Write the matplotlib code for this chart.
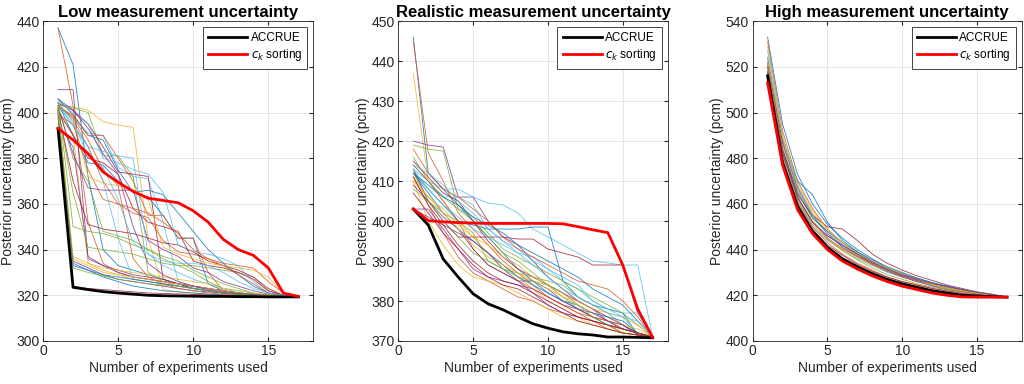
import matplotlib
matplotlib.use("Agg")
from matplotlib import pyplot as plt

plt.rcParams["font.family"] = ["Liberation Sans", "DejaVu Sans"]

N_EXP = list(range(1, 18))
MATLAB_COLORS = ["#0072BD", "#D95319", "#EDB120", "#7E2F8E", "#77AC30", "#4DBEEE", "#A2142F"]

# ---- low measurement uncertainty ----
low_accrue = [393, 323.5, 322.5, 321.6, 321, 320.5, 320, 319.8, 319.7, 319.6, 319.5, 319.5, 319.4, 319.4, 319.3, 319.3, 319.3]
low_ck = [393, 388, 382, 374, 369.5, 365.5, 362.5, 361.5, 360.5, 357, 352, 344.5, 340, 337.5, 332, 321, 319.5]
low_runs = [
    [437, 421, 372, 340, 333, 331, 329, 327, 325, 323, 322, 321, 320.5, 320, 319.8, 319.6, 319.5],
    [437, 403, 352, 334, 330, 328, 327, 326, 325, 324, 323, 322, 321, 320.5, 320, 319.7, 319.5],
    [403, 402.5, 401, 396, 394.5, 393.5, 345, 322.5, 321.5, 321, 320.5, 320, 319.9, 319.8, 319.7, 319.6, 319.5],
    [410, 410, 336, 333, 331, 329, 328, 327, 325, 324, 323, 322, 321, 320.5, 320, 319.7, 319.5],
    [404, 402, 400, 381, 381, 372, 330, 326, 324, 323, 322, 321, 320.5, 320, 319.8, 319.6, 319.5],
    [402, 398, 391, 390, 376, 372, 371, 352, 326, 324, 322, 321, 320.5, 320, 319.8, 319.6, 319.5],
    [404, 401, 395, 385, 374, 373, 372, 327, 325, 323, 322, 321, 320.5, 320, 319.8, 319.6, 319.5],
    [406, 399, 390, 388, 375, 365, 363, 355, 345, 345, 325, 322, 321, 320.5, 320, 319.7, 319.5],
    [403, 397, 385, 370, 360, 356, 354, 344, 339, 338, 336, 334, 333, 332, 326, 321, 319.5],
    [399, 391, 334, 331, 329, 327, 326, 325, 324, 323, 322, 321, 320.5, 320, 319.8, 319.6, 319.5],
    [395, 385, 337, 333, 330, 328, 327, 326, 325, 324, 323, 322, 321, 320.5, 320, 319.7, 319.5],
    [402, 365, 341, 340, 339, 338, 336, 334, 333, 333, 332, 331, 330, 328, 322, 320, 319.5],
    [403, 394, 385, 370, 345, 327, 326, 325, 324, 323, 322, 321, 320.5, 320, 319.8, 319.6, 319.5],
    [401, 370, 351, 349, 348, 347, 345, 343, 342, 339, 335, 333, 331, 328, 323, 320, 319.5],
    [404, 390, 378, 377, 370, 365, 366, 364, 356, 348, 340, 334, 329, 324, 321, 320, 319.5],
    [402, 399, 390, 390, 380, 370, 355, 355, 345, 345, 330, 322, 321, 320.5, 320, 319.7, 319.5],
    [400, 336, 333, 330, 329, 328, 327, 326, 325, 324, 323, 322, 321, 320.5, 320, 319.7, 319.5],
    [398, 335, 332, 329, 327, 326, 325, 324, 323, 322, 321.5, 321, 320.5, 320, 319.8, 319.6, 319.5],
    [403, 380, 370, 348, 346, 344, 340, 336, 333, 330, 326, 323, 321, 320.5, 320, 319.7, 319.5],
    [405, 400, 395, 380, 378, 375, 373, 365, 342, 339, 338, 336, 333, 326, 321, 320, 319.5],
    [401, 390, 380, 378, 373, 358, 352, 350, 348, 335, 333, 332, 330, 327, 322, 320, 319.5],
    [402, 333, 331, 329, 328, 327, 326, 325, 324, 323, 322, 321, 320.5, 320, 319.8, 319.6, 319.5],
    [399, 395, 375, 362, 360, 358, 356, 352, 347, 340, 336, 333, 329, 325, 321, 320, 319.5],
    [404, 398, 372, 369, 368, 366, 362, 341, 338, 336, 334, 333, 332, 331, 328, 321, 319.5],
    [402, 382, 367, 366, 366, 366, 344, 340, 337, 332, 330, 326, 324, 322, 320.5, 320, 319.5],
    [405, 350, 348, 347, 345, 342, 340, 337, 335, 331, 328, 325, 323, 321, 320, 319.7, 319.5],
    [403, 395, 385, 383, 381, 380, 338, 333, 330, 327, 325, 323, 322, 321, 320, 319.7, 319.5],
    [401, 324, 323, 322.5, 322, 321.5, 321, 320.8, 320.6, 320.4, 320.2, 320, 319.9, 319.8, 319.7, 319.6, 319.5],
    [400, 334, 331, 328, 326, 324, 323, 322, 321.5, 321, 320.5, 320.2, 320, 319.8, 319.7, 319.6, 319.5],
    [403, 398, 388, 375, 368, 336, 328, 325, 323, 322, 321, 320.5, 320, 319.8, 319.7, 319.6, 319.5],
    [402, 337, 334, 332, 331, 330, 329, 328, 327, 326, 325, 323, 322, 321, 320.3, 319.8, 319.5],
    [406, 401, 393, 382, 373, 350, 334, 329, 326, 324, 322.5, 321.5, 320.8, 320.3, 320, 319.7, 319.5],
    [399, 332, 330, 328.5, 327, 326, 325, 324.5, 324, 323, 322, 321, 320.5, 320, 319.8, 319.6, 319.5],
    [404, 396, 381, 376, 362, 343, 338, 335, 334, 334, 333, 330, 326, 323, 321, 320, 319.5],
]

# ---- realistic measurement uncertainty ----
real_accrue = [403, 399, 390.5, 386, 381.8, 379.3, 377.8, 376, 374.3, 373.2, 372.3, 371.8, 371.5, 371, 371, 370.9, 370.8]
real_ck = [403, 400.1, 399.8, 399.6, 399.5, 399.4, 399.4, 399.4, 399.4, 399.4, 399.3, 398.6, 397.8, 397.1, 389, 378, 370.9]
real_runs = [
    [446, 412, 408, 404, 400, 396, 392, 388, 385, 382, 380, 378, 376, 374, 373, 372, 371],
    [445, 417, 410, 402, 398, 394, 390, 387, 384, 381, 379, 377, 375, 373, 372, 371.5, 371],
    [437, 410, 405, 400, 396, 392, 389, 386, 383, 380, 378, 376, 374, 373, 372, 371.5, 371],
    [420, 419, 418.5, 406, 406, 400, 396, 394, 390, 386, 383, 380, 378, 375, 373, 372, 371],
    [419, 418, 417.5, 403, 400, 396, 392, 390, 387, 384, 381, 378, 376, 374, 372, 371.5, 371],
    [414, 410, 408, 408, 406, 404.5, 404, 402, 398, 396, 394, 392, 390, 389.5, 389, 389, 371],
    [413, 405, 400, 396, 396, 396, 396, 395.5, 395.5, 393, 392, 391, 389, 389, 389, 377, 371],
    [412, 408, 404, 400, 399, 398, 398, 398, 398.5, 398.5, 385, 381, 379, 378, 377, 371.5, 371],
    [411, 404, 397, 391, 387, 385, 383, 381, 380, 378, 377, 376, 375, 374, 372, 371.5, 371],
    [410, 400, 394, 389, 386, 385, 384, 382, 380, 378, 376, 375, 374, 373, 372, 371.5, 371],
    [403, 403, 398, 393, 388, 386, 385, 384, 383, 381, 379, 378, 376, 375, 373, 372, 371],
    [408, 405, 402, 400, 397, 390, 388, 387, 386, 385, 384, 381, 379, 377, 374, 372, 371],
    [413, 410, 406, 406, 404, 398, 395, 393, 390, 388, 385, 383, 380, 378, 376, 372, 371],
    [415, 411, 407, 405, 400, 395, 391, 388, 386, 384, 382, 380, 378, 376, 374, 372, 371],
    [412, 407, 402, 398, 395, 392, 389, 386, 384, 382, 380, 379, 377, 376, 375, 372, 371],
    [414, 410, 405, 400, 393, 389, 387, 385, 383, 381, 379, 377, 376, 375, 373, 372, 371],
    [411, 406, 403, 399, 396, 394, 391, 389, 386, 384, 381, 379, 377, 375, 374, 373, 371],
    [409, 405, 401, 398, 393, 389, 387, 385, 385, 383, 380, 378, 377, 375, 374, 371.5, 371],
    [416, 410, 406, 403, 401, 397, 393, 391, 389, 387, 385, 383, 381, 379, 377, 374, 371],
    [413, 408, 404, 401, 398, 396, 394, 392, 391, 388, 386, 384, 380, 378, 377, 377, 371],
    [407, 402, 397, 393, 389, 386, 384, 383, 381, 379, 377, 375, 374, 373, 372, 371.5, 371],
    [412, 409, 406, 404, 401, 399, 397, 394, 392, 390, 388, 386, 383, 381, 379, 375, 371],
    [418, 412, 408, 406, 403, 400, 396, 393, 391, 389, 387, 385, 384, 383, 380, 376, 371],
    [410, 406, 402, 398, 394, 391, 389, 387, 385, 383, 381, 380, 378, 377, 376, 374, 371],
    [403, 401, 399, 397, 395, 392, 388, 385, 382, 379, 377, 376, 375, 374, 373, 372, 371],
    [412, 405, 400, 396, 392, 390, 388, 386, 385, 384, 382, 379, 376, 374, 373, 372, 371],
    [414, 412, 409, 405, 402, 398, 395, 392, 389, 386, 383, 381, 379, 377, 376, 375, 371],
    [411, 404, 399, 394, 390, 387, 385, 384, 382, 380, 378, 376, 375, 374, 373, 372, 371],
]

# ---- high measurement uncertainty ----
high_accrue = [516, 478, 459, 448, 441, 436, 432.5, 429.5, 427, 425, 423.5, 422, 421, 420, 419.7, 419.4, 419.2]
high_ck = [513, 477, 457.5, 447, 440, 435, 431.5, 428.5, 426, 424, 422.5, 421, 420, 419.3, 419.2, 419.2, 419.2]
high_runs = [
    [533, 495, 473, 460, 451, 445, 440, 436, 432, 429.5, 427, 425, 423.5, 422, 421, 420, 419.2],
    [531, 492, 470, 458, 449, 443, 438.5, 434.5, 431, 428.5, 426.5, 424.5, 423, 421.8, 420.8, 420, 419.2],
    [529, 490, 468, 456, 448, 442, 437.5, 434, 431, 428.5, 426.5, 424.5, 423, 422, 421, 420, 419.2],
    [520, 484, 463, 452, 446, 442, 438, 434, 431, 428.5, 426.5, 424.5, 423, 421.8, 420.8, 420, 419.2],
    [521, 486, 466, 454, 447, 441.5, 437.5, 434, 431, 429, 427, 425, 423.5, 422, 421, 420, 419.2],
    [518, 482, 462, 450, 444, 440, 436, 433, 430, 428, 426, 424.5, 423, 422, 421, 420, 419.2],
    [517, 483, 464, 455, 450, 449, 444, 438, 434, 431, 428.5, 426.5, 424.5, 423, 421.5, 420.5, 419.2],
    [524, 488, 470, 464, 452, 444, 439, 435, 432, 429.5, 427.5, 425.5, 424, 422.5, 421.2, 420.3, 419.2],
    [515, 480, 461, 450, 443, 438, 434, 431, 428, 426, 424.5, 423, 422, 421, 420.3, 419.8, 419.2],
    [519, 485, 465, 453, 445, 440, 436.5, 433, 430.5, 428, 426, 424.5, 423, 421.8, 420.8, 420, 419.2],
    [522, 487, 467, 455, 447, 441, 437, 433.5, 430.5, 428, 426, 424, 422.5, 421.5, 420.5, 419.8, 419.2],
    [516, 481, 462, 451, 444.5, 439.5, 435.5, 432, 429, 427, 425, 423.5, 422.5, 421.5, 420.7, 420, 419.2],
    [527, 489, 468, 455, 447, 442, 438, 435, 432, 429.5, 427.5, 425.5, 424, 422.5, 421.3, 420.3, 419.2],
    [514, 479, 460, 449, 442, 437.5, 433.5, 430.5, 428, 426, 424.5, 423, 421.8, 420.8, 420, 419.5, 419.2],
    [518, 484, 465, 454, 448, 443, 439, 435.5, 432.5, 430, 427.5, 425.5, 424, 422.5, 421.2, 420.2, 419.2],
    [520, 483, 463, 452, 445, 440.5, 437, 434, 431.5, 429, 427, 425, 423.5, 422.3, 421.2, 420.2, 419.2],
    [523, 489, 469, 457, 449, 443, 438.5, 435, 432, 429.5, 427, 425, 423.5, 422, 421, 420, 419.2],
    [517, 482, 463, 452, 446, 442, 438, 434.5, 431.5, 429, 427, 425.2, 423.8, 422.5, 421.3, 420.3, 419.2],
]


def draw_panel(ax, runs, accrue, ck, title, ylim, yticks):
    for i, run in enumerate(runs):
        ax.plot(N_EXP, run, color=MATLAB_COLORS[i % 7], lw=0.6, alpha=0.85)
    ax.plot(N_EXP, accrue, color="black", lw=2, label="ACCRUE")
    ax.plot(N_EXP, ck, color="red", lw=2, label="$c_k$ sorting")
    ax.set_xlim(0, 18)
    ax.set_ylim(*ylim)
    ax.set_xticks([0, 5, 10, 15])
    ax.set_yticks(yticks)
    ax.set_title(title, fontsize=12, fontweight="bold", pad=3)
    ax.set_xlabel("Number of experiments used", fontsize=10, color="#262626", labelpad=2)
    ax.set_ylabel("Posterior uncertainty (pcm)", fontsize=10, color="#262626", labelpad=1)
    ax.grid(True, color="#e6e6e6", lw=0.7)
    ax.set_axisbelow(True)
    ax.tick_params(direction="in", top=True, right=True, labelsize=10,
                   colors="#262626", length=3, pad=2.5)
    for sp in ax.spines.values():
        sp.set_color("#262626")
        sp.set_linewidth(0.6)
    leg = ax.legend(loc="upper right", fontsize=8.5, handlelength=3.3,
                    fancybox=False, framealpha=1, borderpad=0.45,
                    labelspacing=0.25, handletextpad=0.3, borderaxespad=0.5)
    leg.get_frame().set_edgecolor("#262626")
    leg.get_frame().set_linewidth(0.6)


fig = plt.figure(figsize=(10.24, 3.84), dpi=100)
ax1 = fig.add_axes([0.042, 0.112, 0.264, 0.833])
ax2 = fig.add_axes([0.389, 0.112, 0.263, 0.833])
ax3 = fig.add_axes([0.735, 0.112, 0.263, 0.833])

draw_panel(ax1, low_runs, low_accrue, low_ck, "Low measurement uncertainty",
           (300, 440), range(300, 441, 20))
draw_panel(ax2, real_runs, real_accrue, real_ck, "Realistic measurement uncertainty",
           (370, 450), range(370, 451, 10))
draw_panel(ax3, high_runs, high_accrue, high_ck, "High measurement uncertainty",
           (400, 540), range(400, 541, 20))

fig.savefig("out.png", dpi=100)
